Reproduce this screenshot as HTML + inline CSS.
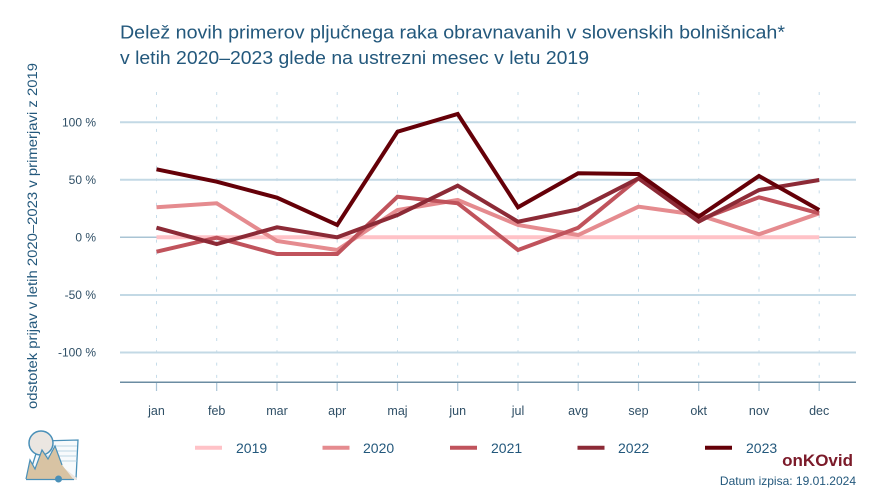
<!DOCTYPE html>
<html><head><meta charset="utf-8"><style>
html,body{margin:0;padding:0;background:#fff;}
svg{display:block;font-family:"Liberation Sans",sans-serif;}
</style></head><body>
<svg width="885" height="496" viewBox="0 0 885 496" xmlns="http://www.w3.org/2000/svg">
<rect width="885" height="496" fill="#fff"/>
<!-- title -->
<text x="120" y="38.5" font-size="18.5" fill="#23587c" textLength="665" lengthAdjust="spacingAndGlyphs">Delež novih primerov pljučnega raka obravnavanih v slovenskih bolnišnicah*</text>
<text x="120" y="64" font-size="18.5" fill="#23587c" textLength="469" lengthAdjust="spacingAndGlyphs">v letih 2020–2023 glede na ustrezni mesec v letu 2019</text>
<!-- y axis title -->
<text transform="translate(37,236) rotate(-90)" text-anchor="middle" font-size="13.5" fill="#23587c" textLength="346" lengthAdjust="spacingAndGlyphs">odstotek prijav v letih 2020–2023 v primerjavi z 2019</text>
<!-- vertical dashed grid -->
<g stroke="#c5dce9" stroke-width="1" stroke-dasharray="3 9.3">
<line x1="156.5" y1="92" x2="156.5" y2="382"/>
<line x1="216.7" y1="92" x2="216.7" y2="382"/>
<line x1="277" y1="92" x2="277" y2="382"/>
<line x1="337.2" y1="92" x2="337.2" y2="382"/>
<line x1="397.5" y1="92" x2="397.5" y2="382"/>
<line x1="457.7" y1="92" x2="457.7" y2="382"/>
<line x1="518" y1="92" x2="518" y2="382"/>
<line x1="578.2" y1="92" x2="578.2" y2="382"/>
<line x1="638.5" y1="92" x2="638.5" y2="382"/>
<line x1="698.7" y1="92" x2="698.7" y2="382"/>
<line x1="759" y1="92" x2="759" y2="382"/>
<line x1="819.2" y1="92" x2="819.2" y2="382"/>
</g>
<!-- horizontal grid -->
<g stroke="#c3d9e5" stroke-width="2">
<line x1="120" y1="122.3" x2="856" y2="122.3"/>
<line x1="120" y1="179.7" x2="856" y2="179.7"/>
<line x1="120" y1="295" x2="856" y2="295"/>
<line x1="120" y1="352.5" x2="856" y2="352.5"/>
</g>
<line x1="120" y1="237.3" x2="856" y2="237.3" stroke="#a9c4d4" stroke-width="1.5"/>
<line x1="120" y1="382.3" x2="856" y2="382.3" stroke="#6b8ca2" stroke-width="1.5"/>
<!-- x ticks -->
<g stroke="#a9c4d6" stroke-width="1.2">
<line x1="156.5" y1="383" x2="156.5" y2="391"/>
<line x1="216.7" y1="383" x2="216.7" y2="391"/>
<line x1="277" y1="383" x2="277" y2="391"/>
<line x1="337.2" y1="383" x2="337.2" y2="391"/>
<line x1="397.5" y1="383" x2="397.5" y2="391"/>
<line x1="457.7" y1="383" x2="457.7" y2="391"/>
<line x1="518" y1="383" x2="518" y2="391"/>
<line x1="578.2" y1="383" x2="578.2" y2="391"/>
<line x1="638.5" y1="383" x2="638.5" y2="391"/>
<line x1="698.7" y1="383" x2="698.7" y2="391"/>
<line x1="759" y1="383" x2="759" y2="391"/>
<line x1="819.2" y1="383" x2="819.2" y2="391"/>
</g>
<!-- y tick labels -->
<g font-size="12" fill="#2f4f66" text-anchor="end">
<text x="96" y="126.5">100 %</text>
<text x="96" y="184">50 %</text>
<text x="96" y="241.5">0 %</text>
<text x="96" y="299">-50 %</text>
<text x="96" y="356.5">-100 %</text>
</g>
<!-- x labels -->
<g font-size="12.5" fill="#2f4f66" text-anchor="middle">
<text x="156.5" y="415">jan</text>
<text x="216.7" y="415">feb</text>
<text x="277" y="415">mar</text>
<text x="337.2" y="415">apr</text>
<text x="397.5" y="415">maj</text>
<text x="457.7" y="415">jun</text>
<text x="518" y="415">jul</text>
<text x="578.2" y="415">avg</text>
<text x="638.5" y="415">sep</text>
<text x="698.7" y="415">okt</text>
<text x="759" y="415">nov</text>
<text x="819.2" y="415">dec</text>
</g>
<!-- series -->
<g fill="none" stroke-width="4" stroke-linejoin="miter" stroke-miterlimit="4">
<polyline stroke="#ffc2c7" points="156.5,237.3 216.7,237.3 277,237.3 337.2,237.3 397.5,237.3 457.7,237.3 518,237.3 578.2,237.3 638.5,237.3 698.7,237.3 759,237.3 819.2,237.3"/>
<polyline stroke="#e58b8f" points="156.5,207.3 216.7,203.3 277,241 337.2,250 397.5,210 457.7,200 518,225 578.2,235 638.5,206.7 698.7,215 759,234.3 819.2,213.3"/>
<polyline stroke="#c0535c" points="156.5,251.7 216.7,237.7 277,254 337.2,254 397.5,196.7 457.7,203.3 518,250 578.2,227.7 638.5,178.3 698.7,220 759,197.3 819.2,213.3"/>
<polyline stroke="#8c2a36" points="156.5,227.7 216.7,244 277,227.3 337.2,237.3 397.5,215 457.7,185.7 518,221.7 578.2,209.3 638.5,178.3 698.7,221.7 759,190 819.2,180"/>
<polyline stroke="#650008" points="156.5,169.3 216.7,181.7 277,197.7 337.2,225 397.5,131.7 457.7,114 518,207.3 578.2,173.3 638.5,174 698.7,216.7 759,176 819.2,210"/>
</g>
<!-- legend -->
<g stroke-width="4">
<line x1="195" y1="447.7" x2="222" y2="447.7" stroke="#ffc2c7"/>
<line x1="322.5" y1="447.7" x2="349.5" y2="447.7" stroke="#e58b8f"/>
<line x1="450" y1="447.7" x2="477" y2="447.7" stroke="#c0535c"/>
<line x1="577.5" y1="447.7" x2="604.5" y2="447.7" stroke="#8c2a36"/>
<line x1="705" y1="447.7" x2="732" y2="447.7" stroke="#650008"/>
</g>
<g font-size="14" fill="#23587c">
<text x="236" y="453">2019</text>
<text x="363" y="453">2020</text>
<text x="491" y="453">2021</text>
<text x="618" y="453">2022</text>
<text x="746" y="453">2023</text>
</g>
<!-- branding -->
<text x="853" y="466" text-anchor="end" font-size="17" font-weight="bold" fill="#7b1a29">onKOvid</text>
<text x="856" y="485" text-anchor="end" font-size="12" fill="#23587c">Datum izpisa: 19.01.2024</text>
<!-- logo -->
<g>
<polygon points="40,441 78,440 76,479 28,479" fill="#f7fafc" stroke="#4a90b8" stroke-width="1.3"/>
<g stroke="#a9c9de" stroke-width="0.8">
<line x1="42" y1="446" x2="77" y2="446"/><line x1="42" y1="451" x2="77" y2="451"/><line x1="42" y1="456" x2="77" y2="456"/><line x1="42" y1="461" x2="77" y2="461"/>
</g>
<circle cx="41" cy="443" r="12" fill="#ebe6e1" stroke="#4a90b8" stroke-width="1.5"/>
<polygon points="26,479 30,460 35,469 42,450 48,459 55,446 64,468 77,478 76,480" fill="#ebe6e1"/>
<polygon points="26,479 30,460 35,469 42,450 48,459 55,446 62,465 74,480" fill="#d8c3a3"/>
<polyline points="26,479 30,460 35,469 42,450 48,459 55,446 62,465" fill="none" stroke="#4a90b8" stroke-width="1.2"/>
<line x1="26" y1="479.5" x2="74" y2="479.5" stroke="#4a90b8" stroke-width="1.2"/>
<circle cx="58.5" cy="479" r="3.5" fill="#4a90b8"/>
</g>
</svg>
</body></html>
